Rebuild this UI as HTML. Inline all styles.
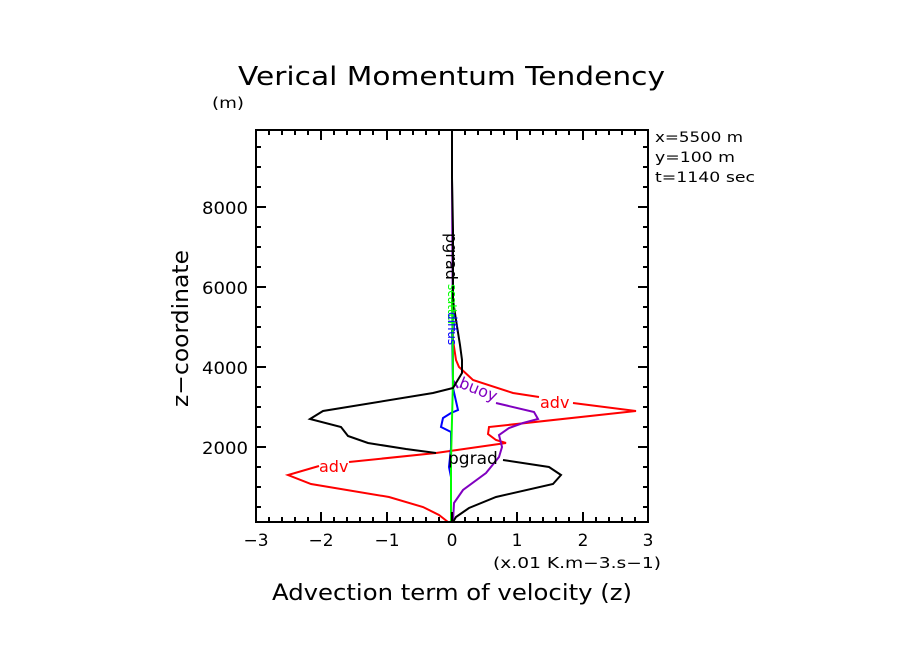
<!DOCTYPE html>
<html><head><meta charset="utf-8"><style>
html,body{margin:0;padding:0;background:#fff;}
svg{display:block;font-family:"DejaVu Sans","Liberation Sans",sans-serif;}
</style></head><body>
<svg width="904" height="654" viewBox="0 0 904 654" xmlns="http://www.w3.org/2000/svg">
<rect width="904" height="654" fill="#fff"/>
<text x="238" y="85" font-size="26" textLength="427" lengthAdjust="spacingAndGlyphs" fill="#000">Verical Momentum Tendency</text>
<text x="212" y="108" font-size="15" textLength="32" lengthAdjust="spacingAndGlyphs" fill="#000">(m)</text>
<text x="655" y="142" font-size="14" textLength="88" lengthAdjust="spacingAndGlyphs" fill="#000">x=5500 m</text>
<text x="655" y="162" font-size="14" textLength="80" lengthAdjust="spacingAndGlyphs" fill="#000">y=100 m</text>
<text x="655" y="182" font-size="14" textLength="100" lengthAdjust="spacingAndGlyphs" fill="#000">t=1140 sec</text>
<g fill="none" stroke-width="2">
<polyline stroke="#f00" points="452,300 453,340 456,360 459,367 473,380 513,393 539,397"/>
<polyline stroke="#f00" points="573,403 636,411 489,427 488,434 496,440 506,443 436,453 349,462"/>
<polyline stroke="#f00" points="319,466 288,475 311,484 389,497 423,507 439,515 448,522"/>
<polyline stroke="#8000c0" points="452,180 453,360 453,380 458,388"/>
<polyline stroke="#8000c0" points="496,403 534,412 538,419 523,423 509,428 499,435 502,447 499,457 486,473 463,490 454,503 453,522"/>
<polyline stroke="#00f" points="452,330 453,388 458,410 451,413 443,418 441,427 451,432 451,448 449,467 451,477 451,495"/>
<polyline stroke="#00f" stroke-dasharray="5,4" points="451,495 451,522"/>
<polyline stroke="#0f0" points="452,290 453,380 452,420 451,460 451,522"/>
<polyline stroke="#000" points="452,130 452,178 453,230 453,300 456,320 460,345 462,360 462,373 453,388 433,393 323,411 310,419 341,427 348,436 368,443 406,449 436,453"/>
<polyline stroke="#000" points="503,460 549,467 561,475 553,484 496,497 469,508 456,517 453,522"/>
</g>
<rect x="256" y="130" width="392" height="392" fill="none" stroke="#000" stroke-width="2"/>
<g stroke="#000" stroke-width="2">
<path d="M256,522v-10M321,522v-10M387,522v-10M452,522v-10M517,522v-10M583,522v-10M648,522v-10M256,130v10M321,130v10M387,130v10M452,130v10M517,130v10M583,130v10M648,130v10"/>
<path d="M269,522v-5M282,522v-5M295,522v-5M308,522v-5M334,522v-5M347,522v-5M360,522v-5M373,522v-5M400,522v-5M413,522v-5M426,522v-5M439,522v-5M465,522v-5M478,522v-5M491,522v-5M504,522v-5M530,522v-5M543,522v-5M556,522v-5M569,522v-5M596,522v-5M609,522v-5M622,522v-5M635,522v-5
M269,130v5M282,130v5M295,130v5M308,130v5M334,130v5M347,130v5M360,130v5M373,130v5M400,130v5M413,130v5M426,130v5M439,130v5M465,130v5M478,130v5M491,130v5M504,130v5M530,130v5M543,130v5M556,130v5M569,130v5M596,130v5M609,130v5M622,130v5M635,130v5"/>
<path d="M256,447h10M256,367h10M256,287h10M256,207h10M648,447h-10M648,367h-10M648,287h-10M648,207h-10"/>
<path d="M256,507h5M256,487h5M256,467h5M256,427h5M256,407h5M256,387h5M256,347h5M256,327h5M256,307h5M256,267h5M256,247h5M256,227h5M256,187h5M256,167h5M256,147h5
M648,507h-5M648,487h-5M648,467h-5M648,427h-5M648,407h-5M648,387h-5M648,347h-5M648,327h-5M648,307h-5M648,267h-5M648,247h-5M648,227h-5M648,187h-5M648,167h-5M648,147h-5"/>
</g>
<g font-size="17" fill="#000" text-anchor="middle">
<text x="256" y="546">−3</text><text x="321" y="546">−2</text><text x="387" y="546">−1</text><text x="452" y="546">0</text><text x="517" y="546">1</text><text x="583" y="546">2</text><text x="648" y="546">3</text>
</g>
<g font-size="17" fill="#000">
<text x="202" y="454" textLength="46" lengthAdjust="spacingAndGlyphs">2000</text><text x="202" y="374" textLength="46" lengthAdjust="spacingAndGlyphs">4000</text><text x="202" y="294" textLength="46" lengthAdjust="spacingAndGlyphs">6000</text><text x="202" y="214" textLength="46" lengthAdjust="spacingAndGlyphs">8000</text>
</g>
<text x="493" y="568" font-size="15" textLength="168" lengthAdjust="spacingAndGlyphs" fill="#000">(x.01 K.m−3.s−1)</text>
<text x="272" y="600" font-size="22" textLength="360" lengthAdjust="spacingAndGlyphs" fill="#000">Advection term of velocity (z)</text>
<text transform="translate(188,407) rotate(-90)" font-size="22" textLength="157" lengthAdjust="spacingAndGlyphs" fill="#000">z−coordinate</text>
<text x="540" y="408" font-size="16" fill="#f00">adv</text>
<text x="319" y="472" font-size="16" fill="#f00">adv</text>
<text x="448" y="464" font-size="17" fill="#000">pgrad</text>
<text transform="translate(458,387) rotate(22)" font-size="16" fill="#8000c0">buoy</text>
<text transform="translate(446,233) rotate(90)" font-size="16" fill="#000">pgrad</text>
<text transform="translate(448,284) rotate(90)" font-size="12" fill="#0f0">scatter</text>
<text transform="translate(448,312) rotate(90)" font-size="12" fill="#00f">diffus</text>
</svg>
</body></html>
